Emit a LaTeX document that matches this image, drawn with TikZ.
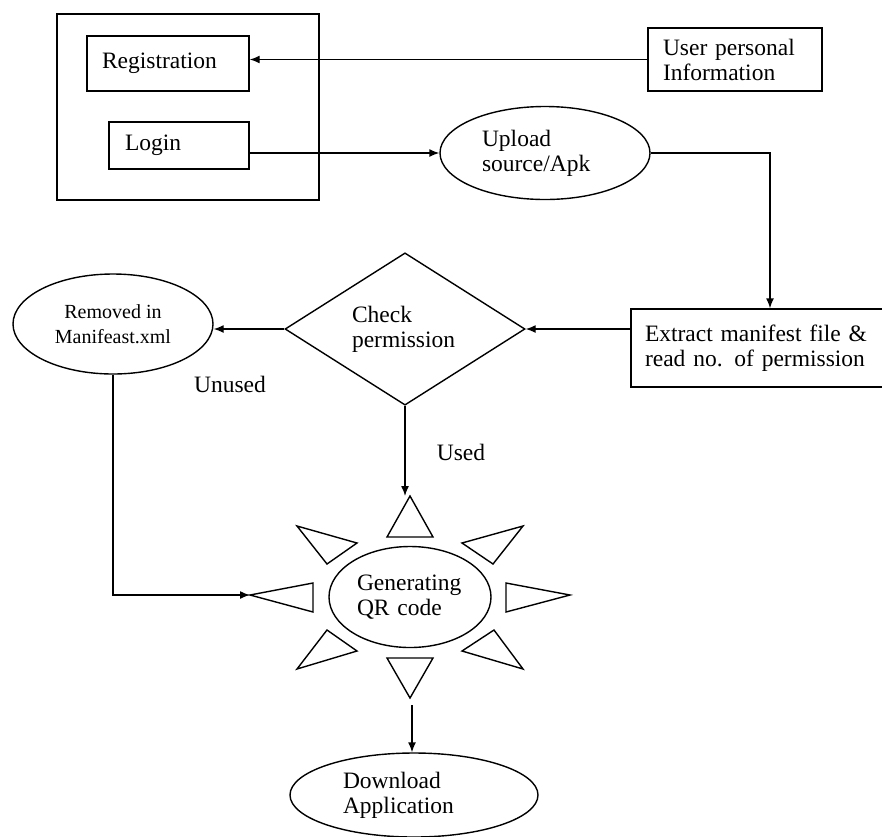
\documentclass[tikz,border=0pt]{standalone}
\usepackage{fontspec}
\setmainfont{Liberation Serif}
\usetikzlibrary{shapes.geometric,arrows.meta}
\begin{document}
\begin{tikzpicture}[x=1pt,y=-1pt,line width=1.4pt,>={Latex[length=10pt,width=8pt]},
    every node/.style={inner sep=0pt,font=\fontsize{23.5}{25}\selectfont},
    box/.style={draw,rectangle,align=left},
    oval/.style={draw,ellipse,align=left}]
  \useasboundingbox (0,0) rectangle (882,836);
  \draw
    (188,107) node[draw,minimum width=262,minimum height=186] (acct){}
    (168,63.5) node[box,minimum width=162,minimum height=55,text width=132] (reg){Registration}
    (179,145.5) node[box,minimum width=140,minimum height=47,text width=108] (login){Login}
    (735,59.5) node[box,minimum width=174,minimum height=63,text width=144] (info){User personal\\Information}
    (545,153) node[oval,minimum width=210,minimum height=93,text width=126] (up){Upload\\source/Apk}
    (760.5,348) node[box,minimum width=259,minimum height=78,text width=231] (ext){Extract manifest file \&\\read no. of permission}
    (405,329) node[draw,diamond,align=left,minimum width=240,minimum height=133,text width=106] (chk){Check\\permission}
    (113,324) node[draw,ellipse,align=center,minimum width=200,minimum height=100,font=\fontsize{20}{25}\selectfont] (rem){Removed in\\Manifeast.xml}
    (410,597) node[oval,minimum width=162,minimum height=101,text width=106] (qr){Generating\\QR code}
    (414,795) node[oval,minimum width=248,minimum height=84,text width=142] (dl){Download\\Application}
    (230,384) node (unused){Unused}
    (461,452) node (used){Used};
  \coordinate (qrtop) at (410,496);
  \coordinate (qrleft) at (250,595);
  \coordinate (qrbot) at (412,705);
  \coordinate (bend) at (770,153);
  \draw (387,537) -- (433,537) -- (qrtop) -- cycle;
  \draw (387,658) -- (433,658) -- (410,698) -- cycle;
  \draw (313,583) -- (313,612) -- (qrleft) -- cycle;
  \draw (506,583) -- (506,612) -- (570,595) -- cycle;
  \draw (357,543) -- (327,564) -- (297,526) -- cycle;
  \draw (462,543) -- (493,564) -- (523,526) -- cycle;
  \draw (357,651) -- (327,630) -- (297,669) -- cycle;
  \draw (462,651) -- (494,630) -- (523,669) -- cycle;
  \begin{scope}[->]
    \draw (info.west) -- (info.west -| reg.east);
    \draw (up.west -| login.east) -- (up.west);
    \draw (up.east) -- (bend) -- (bend |- ext.north);
    \draw (ext.west |- chk.east) -- (chk.east);
    \draw (chk.west) -- (chk.west -| rem.east);
    \draw (rem.south) |- (qrleft);
    \draw (chk.south) -- (chk.south |- qrtop);
    \draw (qrbot) -- (qrbot |- dl.north);
  \end{scope}
\end{tikzpicture}
\end{document}
